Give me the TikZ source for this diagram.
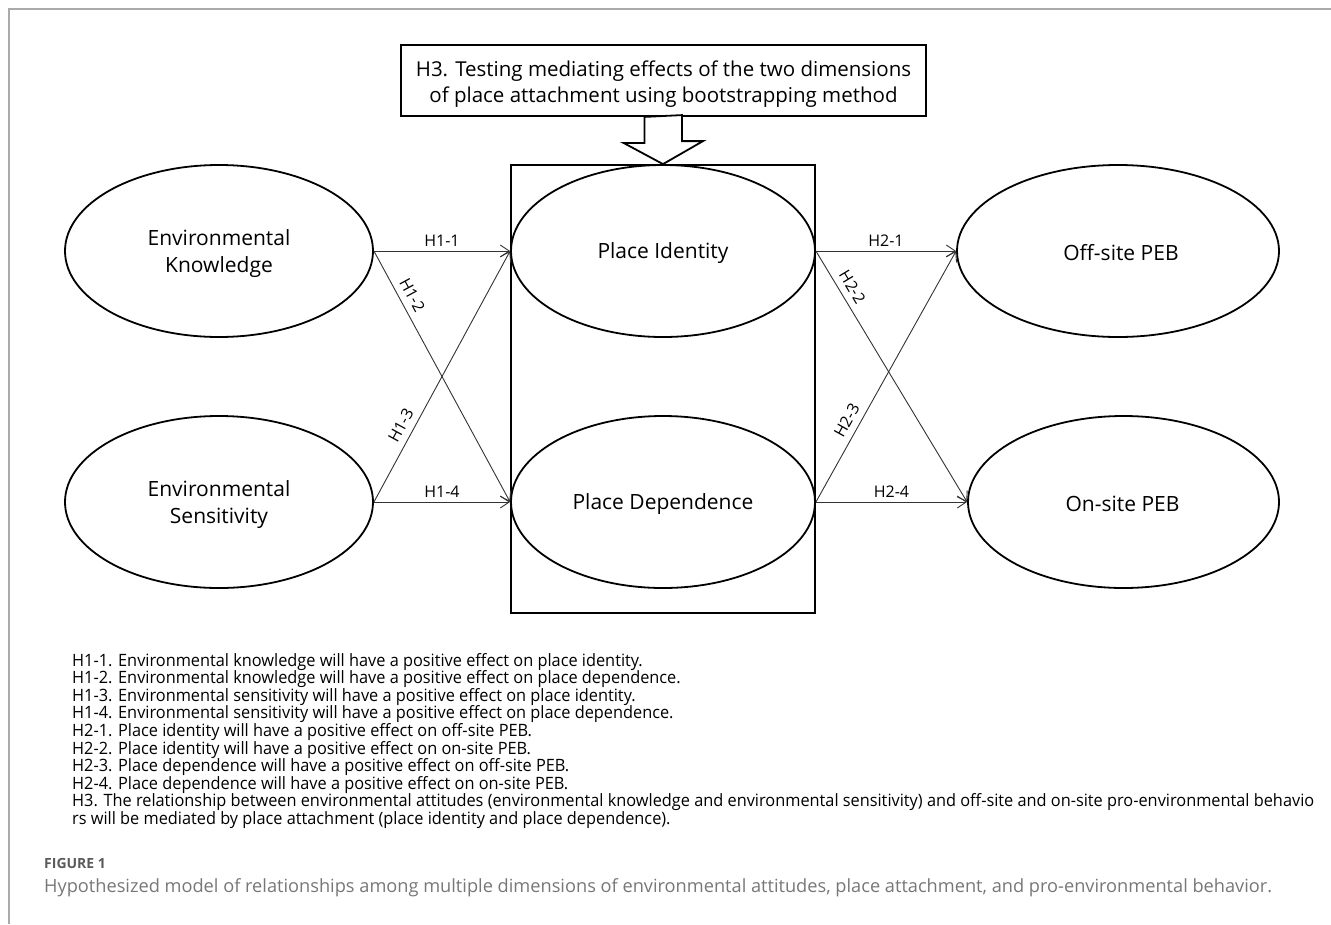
\documentclass[tikz,border=0pt]{standalone}
\usepackage{fontspec}
\setmainfont{Open Sans}
\newfontfamily\listfont[FakeStretch=0.96]{Open Sans}
\usetikzlibrary{arrows.meta,shapes.geometric}
\definecolor{framegray}{HTML}{AAAAAA}
\definecolor{capgray}{HTML}{777777}
\definecolor{figgray}{HTML}{5A5A5A}
\definecolor{linegray}{HTML}{333333}
\begin{document}
\begin{tikzpicture}[x=1pt,y=1pt,
  latent/.style={ellipse, draw=black, line width=1.8pt, minimum width=308pt,
    minimum height=172pt, inner sep=0pt},
  latext/.style={align=center, inner sep=0pt,
    font=\fontsize{21}{27}\selectfont},
  hyppath/.style={draw=linegray, line width=0.9pt,
    -{Straight Barb[length=9pt,width=12pt]}},
  hlab/.style={font=\fontsize{16}{18}\selectfont, text=black, inner sep=3.5pt},
  slab/.style={hlab, sloped, above=3pt},
  listline/.style={anchor=base west, inner sep=0pt, text=black,
    font=\listfont\fontsize{17}{19}\selectfont},
  hollow/.style={draw=black, line width=1.8pt, fill=white, line join=miter}
]
\useasboundingbox (0,0) rectangle (1331,-924);
% frame
\draw[framegray, line width=1.5pt] (9,-924) -- (9,-9) -- (1331,-9);

% latent variables
\node[latent] (ek) at (219,-251) {};
\node[latent] (es) at (219,-502) {};
\node[latent, minimum width=304pt] (pi) at (663,-251) {};
\node[latent, minimum width=304pt] (pd) at (663,-502) {};
\node[latent, minimum width=322pt] (off) at (1118,-251) {};
\node[latent, minimum width=311pt] (on) at (1123.5,-502) {};
\node[latext] (ekt) at ([yshift=-3pt]ek.center) {Environmental\\Knowledge};
\node[latext] (est) at ([yshift=-3pt]es.center) {Environmental\\Sensitivity};
\node[latext] (pit) at ([yshift=-2pt]pi.center) {Place Identity};
\node[latext] (pdt) at ([yshift=-2pt]pd.center) {Place Dependence};
\node[latext] (offt) at ([xshift=3pt,yshift=-2pt]off.center) {Off-site PEB};
\node[latext] (ont) at ([xshift=-1pt,yshift=-2pt]on.center) {On-site PEB};

% place attachment frame
\node[draw=black, line width=1.8pt, minimum width=304pt, minimum height=448pt,
  inner sep=0pt] (pa) at (663,-389) {};

% H3 box
\node[draw=black, line width=1.8pt, minimum width=525pt, minimum height=71pt,
  inner sep=0pt] (h3) at (663.5,-80.5) {};
\node[align=center, inner sep=0pt, font=\fontsize{20.5}{26}\selectfont] (h3t)
  at ([yshift=-3.5pt]h3.center)
  {H3. Testing mediating effects of the two dimensions\\of place attachment using bootstrapping method};

% hollow arrow
\draw[hollow] (h3.south) ++(-19,0) -- ++(0,-26) -- ++(-21,0) -- (pa.north)
  -- ++(40,23) -- ++(-21,0) -- ++(0,26) -- cycle;

% hypothesised paths
\draw[hyppath] (ek.east) -- node[hlab, above=1pt] {H1-1} (pi.west);
\draw[hyppath] (ek.east) -- node[slab, pos=0.2] {H1-2} (pd.west);
\draw[hyppath] (es.east) -- node[slab, pos=0.28] {H1-3} (pi.west);
\draw[hyppath] (es.east) -- node[hlab, above=1pt] {H1-4} (pd.west);
\draw[hyppath] (pi.east) -- node[hlab, above=1pt] {H2-1} (off.west);
\draw[hyppath] (pi.east) -- node[slab, pos=0.17] {H2-2} (on.west);
\draw[hyppath] (pd.east) -- node[slab, pos=0.3] {H2-3} (off.west);
\draw[hyppath] (pd.east) -- node[hlab, above=1pt] {H2-4} (on.west);

% hypotheses list
\node[listline] (l1) at (72,-666) {H1-1. Environmental knowledge will have a positive effect on place identity.};
\node[listline] (l2) at (72,-683.6) {H1-2. Environmental knowledge will have a positive effect on place dependence.};
\node[listline] (l3) at (72,-701.2) {H1-3. Environmental sensitivity will have a positive effect on place identity.};
\node[listline] (l4) at (72,-718.8) {H1-4. Environmental sensitivity will have a positive effect on place dependence.};
\node[listline] (l5) at (72,-736.4) {H2-1. Place identity will have a positive effect on off-site PEB.};
\node[listline] (l6) at (72,-754) {H2-2. Place identity will have a positive effect on on-site PEB.};
\node[listline] (l7) at (72,-771.6) {H2-3. Place dependence will have a positive effect on off-site PEB.};
\node[listline] (l8) at (72,-789.2) {H2-4. Place dependence will have a positive effect on on-site PEB.};
\node[listline] (l9) at (72,-806.8) {H3. The relationship between environmental attitudes (environmental knowledge and environmental sensitivity) and off-site and on-site pro-environmental behavio};
\node[listline] (l10) at (72,-824.4) {rs will be mediated by place attachment (place identity and place dependence).};

% caption
\node[anchor=base west, inner sep=0pt, text=figgray,
  font=\bfseries\fontsize{14}{16}\selectfont] (fig) at (44,-868) {FIGURE 1};
\node[anchor=base west, inner sep=0pt, text=capgray,
  font=\fontsize{18.2}{21}\selectfont] (cap) at (44,-892)
  {Hypothesized model of relationships among multiple dimensions of environmental attitudes, place attachment, and pro-environmental behavior.};
\end{tikzpicture}
\end{document}
